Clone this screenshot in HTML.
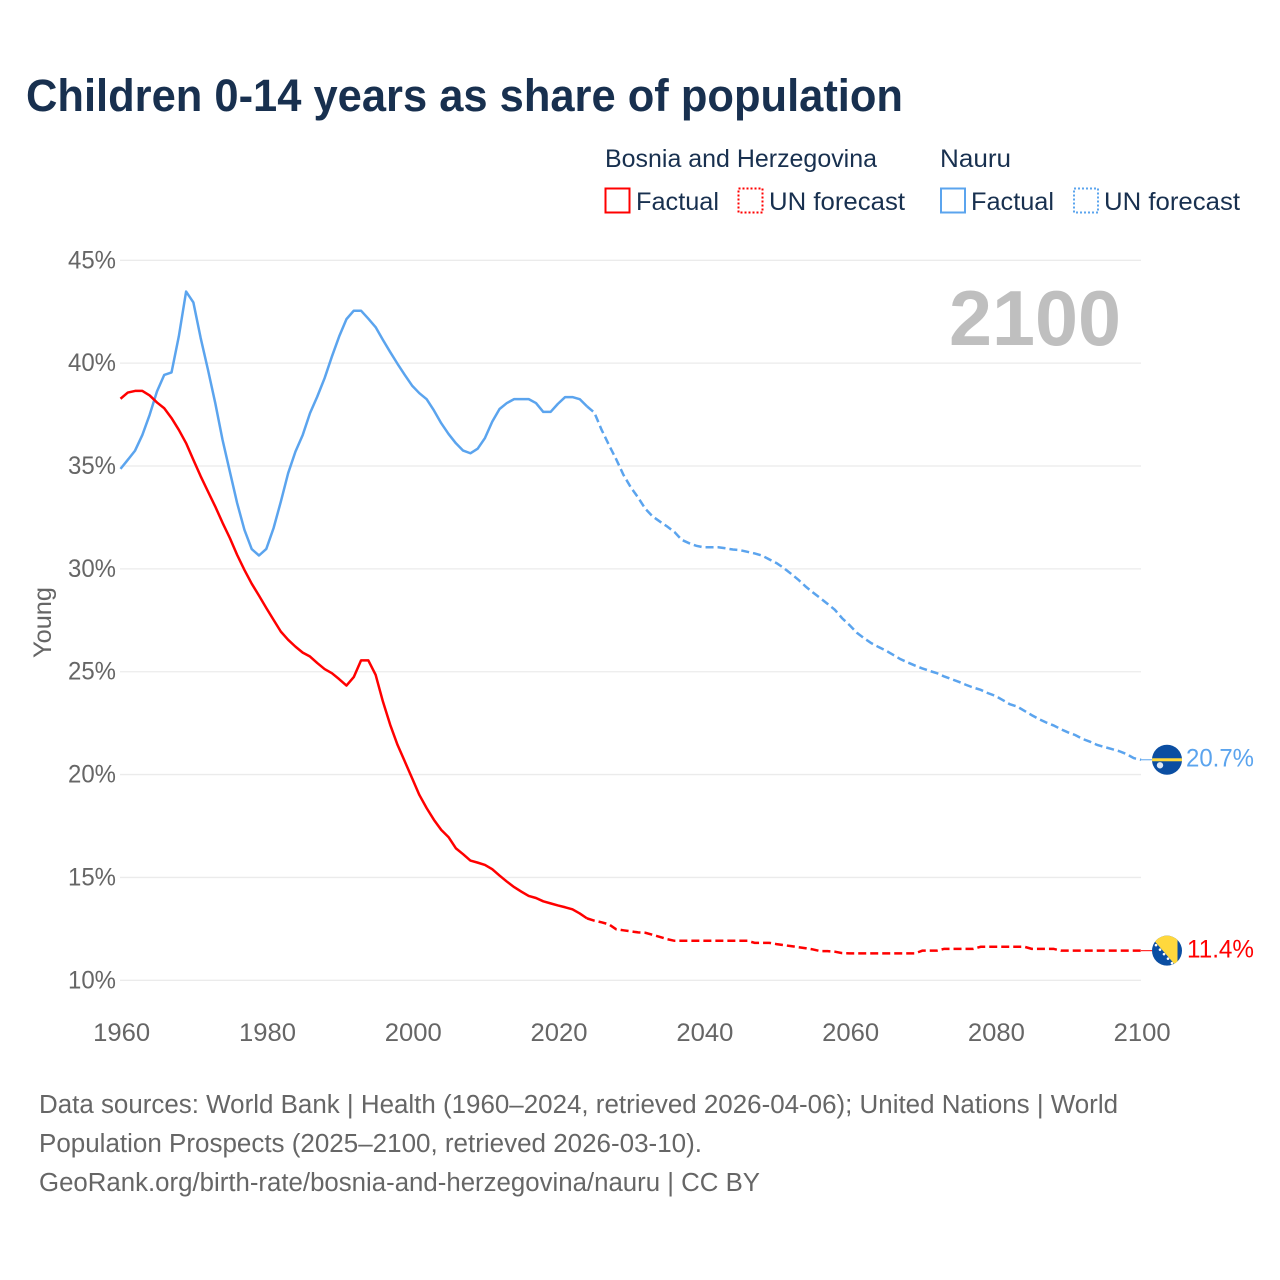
<!DOCTYPE html>
<html lang="en">
<head>
<meta charset="utf-8">
<title>Children 0-14 years as share of population</title>
<style>
html,body{margin:0;padding:0;background:#fff;width:1280px;height:1280px;overflow:hidden}
svg{display:block}
text{font-family:"Liberation Sans",sans-serif}
</style>
</head>
<body>
<svg id="chart" xmlns="http://www.w3.org/2000/svg" width="1280" height="1280" viewBox="0 0 1280 1280">
  <defs>
    <clipPath id="flag-clip"><circle cx="0" cy="0" r="15"/></clipPath>
  </defs>
  <rect x="0" y="0" width="1280" height="1280" fill="#fff"/>
  <text x="26" y="111" font-size="45" font-weight="700" fill="#18304f" textLength="877" lengthAdjust="spacingAndGlyphs">Children 0-14 years as share of population</text>

  <g font-size="25" fill="#18304f">
    <text x="605" y="167" textLength="272" lengthAdjust="spacingAndGlyphs">Bosnia and Herzegovina</text>
    <text x="940" y="167" textLength="71" lengthAdjust="spacingAndGlyphs">Nauru</text>
    <rect x="605.5" y="188.5" width="24" height="24" fill="none" stroke="#ff0000" stroke-width="2"/>
    <text x="636" y="210" textLength="83" lengthAdjust="spacingAndGlyphs">Factual</text>
    <rect x="738.5" y="188.5" width="24" height="24" fill="none" stroke="#ff0000" stroke-width="2" stroke-dasharray="2 2"/>
    <text x="769" y="210" textLength="136" lengthAdjust="spacingAndGlyphs">UN forecast</text>
    <rect x="941" y="188.5" width="24" height="24" fill="none" stroke="#5ba4ee" stroke-width="2"/>
    <text x="971" y="210" textLength="83" lengthAdjust="spacingAndGlyphs">Factual</text>
    <rect x="1074" y="188.5" width="24" height="24" fill="none" stroke="#5ba4ee" stroke-width="2" stroke-dasharray="2 2"/>
    <text x="1104" y="210" textLength="136" lengthAdjust="spacingAndGlyphs">UN forecast</text>
  </g>

  <g id="grid"></g>
  <g id="y-ticks"></g>
  <g id="x-ticks"></g>
  <text transform="translate(51,622.5) rotate(-90)" text-anchor="middle" font-size="25" fill="#666" textLength="71" lengthAdjust="spacingAndGlyphs">Young</text>
  <text x="949" y="345" font-size="78" font-weight="700" fill="#bfbfbf" textLength="172" lengthAdjust="spacingAndGlyphs">2100</text>

  <g id="series"></g>

  <g id="flag-nauru">
    <g clip-path="url(#flag-clip)">
      <rect x="-16" y="-16" width="32" height="32" fill="#0b4ea2"/>
      <rect x="-16" y="-1.5" width="32" height="3" fill="#ffd83d"/>
      <circle cx="-7" cy="5.5" r="3.2" fill="#dfe8f4"/>
    </g>
  </g>
  <g id="flag-bosnia">
    <g clip-path="url(#flag-clip)">
      <rect x="-16" y="-16" width="32" height="32" fill="#0b4ea2"/>
      <polygon points="-18,-16 10.5,-16 10.5,16 9.7,16" fill="#ffd83d"/>
      <circle cx="-11" cy="-5.5" r="1.3" fill="#fff"/>
      <circle cx="-7" cy="-1" r="1.3" fill="#fff"/>
      <circle cx="-3" cy="3.5" r="1.3" fill="#fff"/>
      <circle cx="1" cy="8" r="1.3" fill="#fff"/>
      <circle cx="5" cy="12.5" r="1.3" fill="#fff"/>
    </g>
  </g>
  <g id="end-labels"></g>

  <g font-size="25.5" fill="#666">
    <text x="39" y="1113" textLength="1079" lengthAdjust="spacingAndGlyphs">Data sources: World Bank | Health (1960–2024, retrieved 2026-04-06); United Nations | World</text>
    <text x="39" y="1152" textLength="663" lengthAdjust="spacingAndGlyphs">Population Prospects (2025–2100, retrieved 2026-03-10).</text>
    <text x="39" y="1191" textLength="721" lengthAdjust="spacingAndGlyphs">GeoRank.org/birth-rate/bosnia-and-herzegovina/nauru | CC BY</text>
  </g>
</svg>
<script>
const yTickValues = [45, 40, 35, 30, 25, 20, 15, 10];
const xTickYears = [1960, 1980, 2000, 2020, 2040, 2060, 2080, 2100];
const factualStartYear = 1960;
const forecastStartYear = 2024;

const bosniaFactual = [
  38.27,38.57,38.65,38.65,38.43,38.09,37.81,37.33,36.76,36.11,
  35.3,34.5,33.76,33.03,32.24,31.5,30.68,29.95,29.28,28.7,
  28.1,27.52,26.95,26.55,26.22,25.93,25.74,25.42,25.13,24.93,
  24.64,24.33,24.74,25.55,25.55,24.85,23.55,22.42,21.45,20.64,
  19.83,19.01,18.37,17.8,17.31,16.96,16.42,16.13,15.82,15.72,
  15.61,15.4,15.09,14.8,14.53,14.31,14.1,14.0,13.84,13.74,
  13.64,13.55,13.45,13.25,13.01
];
const bosniaForecast = [
  13.01,12.9,12.82,12.72,12.48,12.43,
  12.38,12.33,12.31,12.21,12.11,12.0,11.92,11.92,11.92,11.92,
  11.92,11.92,11.92,11.92,11.92,11.92,11.92,11.82,11.82,11.82,
  11.76,11.71,11.66,11.61,11.56,11.5,11.42,11.42,11.39,11.32,
  11.31,11.31,11.31,11.31,11.31,11.31,11.31,11.31,11.31,11.31,
  11.44,11.44,11.44,11.53,11.53,11.53,11.53,11.53,11.63,11.63,
  11.63,11.63,11.63,11.63,11.63,11.53,11.53,11.53,11.53,11.44,
  11.44,11.44,11.44,11.44,11.44,11.44,11.44,11.44,11.44,11.44,11.44
];
const nauruFactual = [
  34.86,35.3,35.75,36.51,37.49,38.62,39.43,39.55,41.3,43.48,
  42.95,41.22,39.68,38.06,36.27,34.73,33.2,31.9,30.96,30.65,
  30.97,31.98,33.27,34.65,35.7,36.51,37.57,38.38,39.27,40.32,
  41.3,42.14,42.55,42.55,42.16,41.75,41.13,40.54,39.97,39.43,
  38.91,38.54,38.25,37.7,37.08,36.56,36.11,35.75,35.62,35.84,
  36.36,37.16,37.77,38.06,38.25,38.25,38.25,38.06,37.63,37.63,
  38.02,38.35,38.35,38.25,37.9
];
const nauruForecast = [
  37.9,37.6,36.76,36.03,35.33,34.57,
  33.97,33.47,32.92,32.55,32.3,32.06,31.79,31.41,31.25,31.12,
  31.05,31.05,31.05,31.0,30.94,30.91,30.83,30.75,30.65,30.46,
  30.28,30.04,29.76,29.47,29.14,28.85,28.58,28.3,28.01,27.6,
  27.27,26.9,26.63,26.39,26.2,26.03,25.82,25.61,25.45,25.3,
  25.16,25.04,24.93,24.77,24.64,24.51,24.36,24.23,24.12,23.96,
  23.83,23.63,23.42,23.31,23.1,22.89,22.7,22.53,22.39,22.21,
  22.05,21.92,21.73,21.6,21.44,21.34,21.24,21.14,21.0,20.8,20.72
];

const NS = 'http://www.w3.org/2000/svg';
function xScale(year) { return 120.5 + (year - 1960) * (1141 - 120.5) / 140; }
function yScale(v) { return 260.3 + (45 - v) * (980.3 - 260.3) / 35; }
function make(tag, attrs, parent) {
  const el = document.createElementNS(NS, tag);
  Object.keys(attrs).forEach(function (k) { el.setAttribute(k, attrs[k]); });
  parent.appendChild(el);
  return el;
}
function pathFor(values, startYear) {
  return values.map(function (v, i) {
    return (i ? 'L' : 'M') + xScale(startYear + i).toFixed(2) + ' ' + yScale(v).toFixed(2);
  }).join(' ');
}

const gridG = document.getElementById('grid');
const yG = document.getElementById('y-ticks');
yTickValues.forEach(function (v) {
  const line = make('line', { x1: 120, x2: 1141, y1: yScale(v), y2: yScale(v), stroke: '#ebebeb', 'stroke-width': 1.3 }, gridG);
  
  
  const label = make('text', { x: 116, y: yScale(v) + 8, 'text-anchor': 'end', 'font-size': 25, fill: '#666', textLength: 48, lengthAdjust: 'spacingAndGlyphs' }, yG);
  
  
  label.textContent = v + '%';
});

const xG = document.getElementById('x-ticks');
xTickYears.forEach(function (year) {
  const label = make('text', { x: xScale(year) + 1.2, y: 1041, 'text-anchor': 'middle', 'font-size': 25, fill: '#666', textLength: 57, lengthAdjust: 'spacingAndGlyphs' }, xG);
  
  
  label.textContent = year;
});

const seriesG = document.getElementById('series');
const RED = '#ff0000';
const BLUE = '#5ba4ee';

const nauruSolid = make('path', { d: pathFor(nauruFactual, factualStartYear), fill: 'none', stroke: BLUE, 'stroke-width': 2.5, 'stroke-linejoin': 'round' }, seriesG);



const nauruDash = make('path', { d: pathFor(nauruForecast, forecastStartYear), fill: 'none', stroke: BLUE, 'stroke-width': 2.5, 'stroke-dasharray': '8 4' }, seriesG);



const bosniaSolid = make('path', { d: pathFor(bosniaFactual, factualStartYear), fill: 'none', stroke: RED, 'stroke-width': 2.5, 'stroke-linejoin': 'round' }, seriesG);



const bosniaDash = make('path', { d: pathFor(bosniaForecast, forecastStartYear), fill: 'none', stroke: RED, 'stroke-width': 2.5, 'stroke-dasharray': '8 4' }, seriesG);



const nauruLast = nauruForecast[nauruForecast.length - 1];
const bosniaLast = bosniaForecast[bosniaForecast.length - 1];

const nauruConnector = make('line', { x1: 1141, x2: 1153, y1: yScale(nauruLast), y2: yScale(nauruLast), stroke: BLUE, 'stroke-width': 1 }, seriesG);



const bosniaConnector = make('line', { x1: 1141, x2: 1153, y1: yScale(bosniaLast), y2: yScale(bosniaLast), stroke: RED, 'stroke-width': 1 }, seriesG);



document.getElementById('flag-nauru').setAttribute('transform', 'translate(1167,' + yScale(nauruLast).toFixed(2) + ')');
document.getElementById('flag-bosnia').setAttribute('transform', 'translate(1167,' + yScale(bosniaLast).toFixed(2) + ')');

const endG = document.getElementById('end-labels');
const nauruEnd = make('text', { x: 1186, y: yScale(nauruLast) + 6.5, 'font-size': 25, fill: BLUE, textLength: 68, lengthAdjust: 'spacingAndGlyphs' }, endG);


nauruEnd.textContent = nauruLast.toFixed(1) + '%';

const bosniaEnd = make('text', { x: 1187, y: yScale(bosniaLast) + 7, 'font-size': 25, fill: RED, textLength: 67, lengthAdjust: 'spacingAndGlyphs' }, endG);


bosniaEnd.textContent = bosniaLast.toFixed(1) + '%';
</script>
</body>
</html>
